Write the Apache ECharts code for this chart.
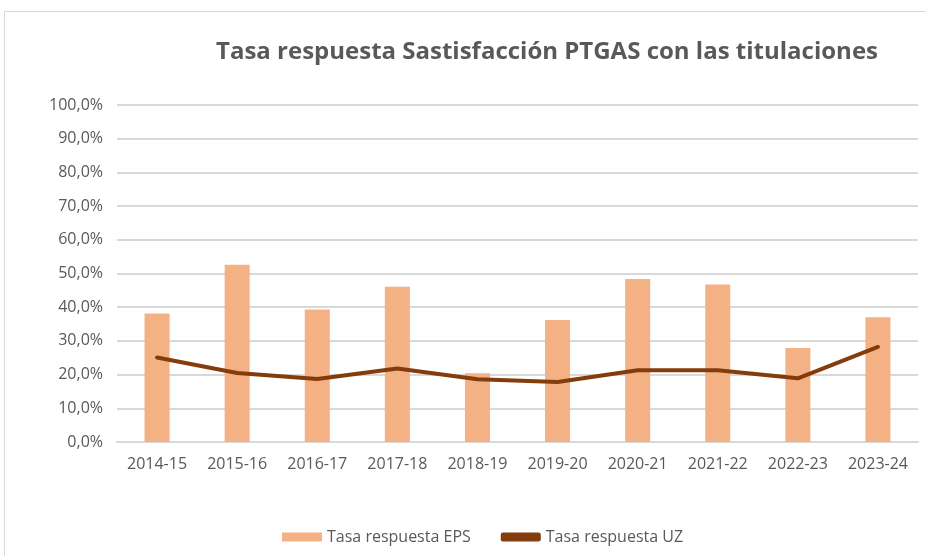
<!DOCTYPE html>
<html>
<head>
<meta charset="utf-8">
<script src="https://cdn.jsdelivr.net/npm/echarts@6/dist/echarts.min.js"></script>
<style>
  html, body { margin: 0; padding: 0; background: #fff; }
  #frame { position: absolute; left: 4px; top: 11px; width: 940px; height: 560px; border: 1px solid #d9d9d9; }
  #content { position: absolute; left: 0; top: 0; width: 926px; height: 556px; }
</style>
</head>
<body>
<div id="frame"></div>
<div id="content"></div>
<script>
  const cursos = ['2014-15', '2015-16', '2016-17', '2017-18', '2018-19', '2019-20', '2020-21', '2021-22', '2022-23', '2023-24'];
  const tasaEPS = [38.1, 52.6, 39.3, 46.1, 20.4, 36.2, 48.4, 46.7, 27.9, 37.0];
  const tasaUZ = [25.1, 20.5, 18.7, 21.8, 18.6, 17.8, 21.3, 21.3, 18.9, 28.2];

  const gris = '#595959';
  let chart = echarts.init(document.getElementById('content'));
  chart.setOption({
    animation: false,
    title: {
      text: 'Tasa respuesta Sastisfacción PTGAS con las titulaciones',
      left: 542,
      top: 35,
      textAlign: 'center',
      textStyle: { fontFamily: 'Open Sans', fontSize: 24, fontWeight: 'bold', color: gris }
    },
    legend: {
      bottom: 6,
      left: 277,
      itemGap: 30,
      textStyle: { fontFamily: 'Open Sans', fontSize: 16, color: gris },
      data: [
        { name: 'Tasa respuesta EPS', icon: 'rect', itemStyle: { color: '#f4b183' } },
        { name: 'Tasa respuesta UZ', icon: 'roundRect' }
      ],
      itemWidth: 40,
      itemHeight: 9
    },
    grid: { left: 117, right: 8, top: 105, bottom: 114 },
    xAxis: {
      type: 'category',
      data: cursos,
      axisLine: { lineStyle: { color: '#d9d9d9', width: 2 } },
      axisTick: { show: false },
      axisLabel: { fontFamily: 'Open Sans', fontSize: 16, color: gris, margin: 14 }
    },
    yAxis: {
      type: 'value',
      min: 0,
      max: 100,
      interval: 10,
      axisLine: { show: false },
      axisTick: { show: false },
      splitLine: { lineStyle: { color: '#d9d9d9', width: 2 } },
      axisLabel: {
        fontFamily: 'Open Sans', fontSize: 16, color: gris, margin: 14,
        formatter: v => v.toFixed(1).replace('.', ',') + '%'
      }
    },
    series: [
      {
        name: 'Tasa respuesta EPS',
        type: 'bar',
        data: tasaEPS,
        barWidth: 25,
        itemStyle: { color: '#f4b183' }
      },
      {
        name: 'Tasa respuesta UZ',
        type: 'line',
        data: tasaUZ,
        symbol: 'none',
        lineStyle: { color: '#843c0c', width: 4, cap: 'round' },
        itemStyle: { color: '#843c0c' }
      }
    ]
  });
</script>
</body>
</html>
